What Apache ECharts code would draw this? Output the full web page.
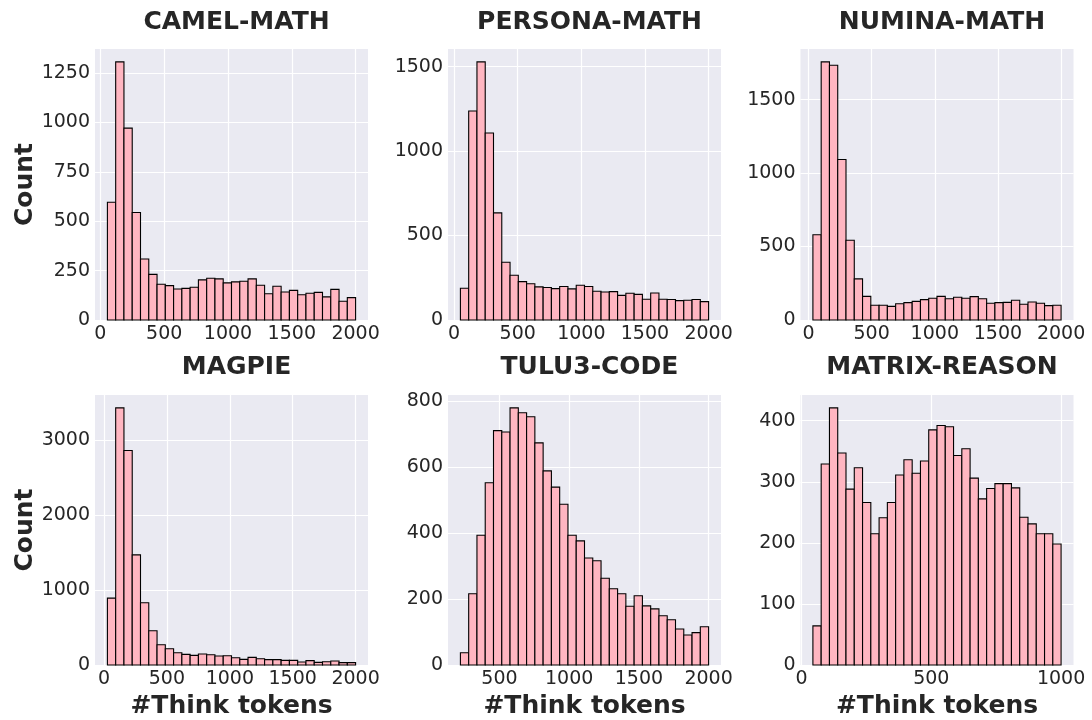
<!DOCTYPE html>
<html>
<head>
<meta charset="utf-8">
<script src="https://cdn.jsdelivr.net/npm/echarts@6/dist/echarts.min.js"></script>
<style>
html,body{margin:0;padding:0;background:#fff;}
#chart{width:1092px;height:720px;}
</style>
</head>
<body>
<div id="chart"></div>
<script>
// ---- Data ----
var panelTitles = ['CAMEL-MATH', 'PERSONA-MATH', 'NUMINA-MATH', 'MAGPIE', 'TULU3-CODE', 'MATRIX-REASON'];

// bin range [first edge, last edge] of each histogram (30 bins each)
var camelRange = [55, 2000];
var personaRange = [50, 2000];
var numinaRange = [35, 2000];
var magpieRange = [27, 2000];
var tuluRange = [220, 2000];
var matrixRange = [44, 1000];

var camelCounts = [596,1306,971,544,309,231,181,174,157,160,166,203,211,208,188,193,196,208,176,133,171,142,150,128,135,140,117,155,95,113];
var personaCounts = [188,1237,1528,1107,634,342,265,227,215,196,192,186,198,184,206,198,170,166,168,146,158,152,123,160,123,121,115,117,121,109];
var numinaCounts = [580,1757,1734,1093,543,280,161,100,100,93,111,118,127,139,148,161,145,155,148,159,145,114,118,120,134,107,123,114,98,100];
var magpieCounts = [891,3425,2858,1467,829,456,270,217,164,142,128,146,137,120,124,97,75,102,84,71,71,62,62,40,58,35,44,53,31,31];
var tuluCounts = [37,216,393,552,710,706,779,764,752,673,588,539,487,393,376,324,316,263,231,216,178,210,179,170,149,137,109,91,98,116];
var matrixCounts = [64,329,421,347,288,323,266,215,241,266,311,336,314,334,385,392,390,343,354,306,272,289,297,297,290,242,231,215,215,198];

var xTicksA = [0, 500, 1000, 1500, 2000];
var xTicksTulu = [500, 1000, 1500, 2000];
var xTicksMatrix = [0, 500, 1000];
var yTicksCamel = [0, 250, 500, 750, 1000, 1250];
var yTicksPersona = [0, 500, 1000, 1500];
var yTicksNumina = [0, 500, 1000, 1500];
var yTicksMagpie = [0, 1000, 2000, 3000];
var yTicksTulu = [0, 200, 400, 600, 800];
var yTicksMatrix = [0, 100, 200, 300, 400];

var ranges = [camelRange, personaRange, numinaRange, magpieRange, tuluRange, matrixRange];
var counts = [camelCounts, personaCounts, numinaCounts, magpieCounts, tuluCounts, matrixCounts];
var xTicks = [xTicksA, xTicksA, xTicksA, xTicksA, xTicksTulu, xTicksMatrix];
var yTicks = [yTicksCamel, yTicksPersona, yTicksNumina, yTicksMagpie, yTicksTulu, yTicksMatrix];

// ---- Layout / style ----
var FONT = 'DejaVu Sans';
var TXT = '#262626';
var lefts = [95, 448, 800.5];
var tops = [49, 395];
var W = 273, H = 271;
function plain(v) { return String(Math.round(v)); }

var chart = echarts.init(document.getElementById('chart'), null, {renderer: 'canvas'});

var grids = [], xAxes = [], yAxes = [], series = [], titles = [];
for (var i = 0; i < 6; i++) {
  var col = i % 3, row = Math.floor(i / 3);
  var r = ranges[i], c = counts[i];
  var nb = c.length;
  var span = r[1] - r[0];
  var data = [];
  for (var b = 0; b < nb; b++) {
    data.push([r[0] + span * b / nb, r[0] + span * (b + 1) / nb, c[b]]);
  }
  var ymax = Math.max.apply(null, c) * 1.05;
  grids.push({left: lefts[col], top: tops[row], width: W, height: H,
    show: true, backgroundColor: '#EAEAF2', borderWidth: 0, containLabel: false});
  xAxes.push({
    type: 'value', gridIndex: i,
    min: r[0] - 0.05 * span, max: r[1] + 0.05 * span,
    axisLine: {show: false},
    axisTick: {show: false, customValues: xTicks[i]},
    axisLabel: {customValues: xTicks[i], formatter: plain, color: TXT, fontFamily: FONT, fontSize: 19, margin: 5},
    splitLine: {show: true, lineStyle: {color: '#ffffff', width: 1.2}},
    name: row === 1 ? '#Think tokens' : '',
    nameLocation: 'middle', nameGap: 29,
    nameTextStyle: {color: TXT, fontFamily: FONT, fontSize: 25, fontWeight: 'bold'}
  });
  yAxes.push({
    type: 'value', gridIndex: i,
    min: 0, max: ymax,
    axisLine: {show: false},
    axisTick: {show: false, customValues: yTicks[i]},
    axisLabel: {customValues: yTicks[i], formatter: plain, color: TXT, fontFamily: FONT, fontSize: 19, margin: 5},
    splitLine: {show: true, lineStyle: {color: '#ffffff', width: 1.2}},
    name: col === 0 ? 'Count' : '',
    nameLocation: 'middle', nameGap: 56, nameRotate: 90,
    nameTextStyle: {color: TXT, fontFamily: FONT, fontSize: 25, fontWeight: 'bold'}
  });
  series.push({
    type: 'custom', xAxisIndex: i, yAxisIndex: i,
    encode: {x: [0, 1], y: 2},
    data: data,
    renderItem: function (params, api) {
      var p0 = api.coord([api.value(0), api.value(2)]);
      var p1 = api.coord([api.value(1), 0]);
      return {
        type: 'rect',
        shape: {x: p0[0], y: p0[1], width: p1[0] - p0[0], height: p1[1] - p0[1]},
        style: {fill: '#FFB6C1', stroke: '#000000', lineWidth: 1.1}
      };
    }
  });
  titles.push({
    text: panelTitles[i],
    left: lefts[col] + W / 2, textAlign: 'center',
    top: row === 0 ? 5 : 350,
    textStyle: {color: TXT, fontFamily: FONT, fontSize: 25, fontWeight: 'bold'}
  });
}

chart.setOption({
  animation: false,
  backgroundColor: '#ffffff',
  title: titles,
  grid: grids,
  xAxis: xAxes,
  yAxis: yAxes,
  series: series
});
</script>
</body>
</html>
